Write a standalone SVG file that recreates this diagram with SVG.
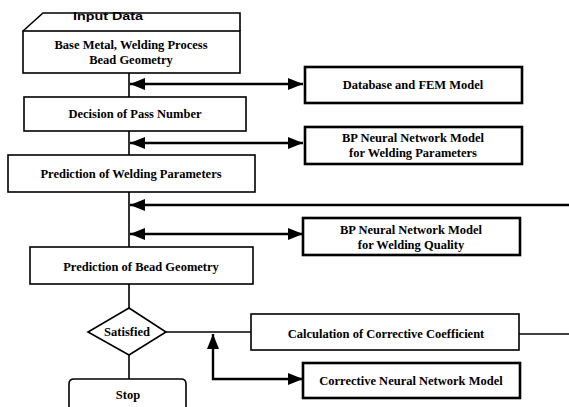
<svg xmlns="http://www.w3.org/2000/svg" width="569" height="407" viewBox="0 0 569 407">
  <defs>
    <marker id="ah" viewBox="0 0 15 12" refX="15" refY="6" markerWidth="15" markerHeight="12" markerUnits="userSpaceOnUse" orient="auto-start-reverse">
      <path d="M0,0 L15,6 L0,12 Z" fill="#000"/>
    </marker>
    <style>
      .box { fill: #fff; stroke: #000; stroke-width: 1.6; }
      .mbox { fill: #fff; stroke: #000; stroke-width: 2.6; }
      .t { font-family: "Liberation Serif", "Times New Roman", serif; font-weight: bold; font-size: 12.5px; text-anchor: middle; fill: #000; }
      .ln { fill: none; stroke: #000; stroke-width: 1.6; }
      .ar { fill: none; stroke: #000; stroke-width: 2.4; }
    </style>
  </defs>

  <!-- connectors -->
  <g id="connectors">
    <path class="ln" d="M129,73 V97 M129,131 V155 M129,192 V247 M129,284 V308 M129,355 V379"/>
    <line class="ar" x1="130" y1="84" x2="303" y2="84" marker-start="url(#ah)" marker-end="url(#ah)"/>
    <line class="ar" x1="130" y1="143" x2="303" y2="143" marker-start="url(#ah)" marker-end="url(#ah)"/>
    <line class="ar" x1="569" y1="205" x2="130" y2="205" marker-end="url(#ah)"/>
    <line class="ar" x1="130" y1="234" x2="303" y2="234" marker-start="url(#ah)" marker-end="url(#ah)"/>
    <path class="ln" d="M166,332 H251"/>
    <path class="ln" d="M519,334 H569"/>
    <path class="ar" d="M303,379 H213 V334" marker-start="url(#ah)" marker-end="url(#ah)"/>
  </g>

  <!-- input data header -->
  <g id="input-data">
    <path class="box" d="M23,31 L43,13 H240 V31"/>
    <text x="108" y="20" textLength="70" lengthAdjust="spacingAndGlyphs" style="font-family:'Liberation Sans',Arial,sans-serif;font-weight:bold;font-size:11px;text-anchor:middle">Input Data</text>
  </g>

  <g id="base-metal">
    <rect class="box" x="23" y="31" width="217" height="42"/>
    <text class="t" x="131" y="49">Base Metal, Welding Process</text>
    <text class="t" x="131" y="64">Bead Geometry</text>
  </g>

  <g id="pass-number">
    <rect class="box" x="24" y="97" width="222" height="34"/>
    <text class="t" x="135" y="118">Decision of Pass Number</text>
  </g>

  <g id="pred-params">
    <rect class="box" x="8" y="155" width="247" height="37"/>
    <text class="t" x="131" y="178">Prediction of Welding Parameters</text>
  </g>

  <g id="pred-bead">
    <rect class="box" x="30" y="247" width="223" height="37"/>
    <text class="t" x="141" y="271">Prediction of Bead Geometry</text>
  </g>

  <g id="satisfied">
    <path class="box" d="M129,308 L166,332 L129,355 L88,332 Z"/>
    <text class="t" x="127" y="336">Satisfied</text>
  </g>

  <g id="stop">
    <path class="box" d="M69,410 V384 Q69,379 74,379 H181 Q186,379 186,384 V410"/>
    <text class="t" x="128" y="399">Stop</text>
  </g>

  <g id="database-fem">
    <rect class="mbox" x="305" y="67" width="217" height="36"/>
    <text class="t" x="413" y="89">Database and FEM Model</text>
  </g>

  <g id="bp-params">
    <rect class="mbox" x="305" y="127" width="217" height="37"/>
    <text class="t" x="413" y="142">BP Neural Network Model</text>
    <text class="t" x="413" y="157">for Welding Parameters</text>
  </g>

  <g id="bp-quality">
    <rect class="mbox" x="303" y="218" width="217" height="37"/>
    <text class="t" x="411" y="234">BP Neural Network Model</text>
    <text class="t" x="411" y="249">for Welding Quality</text>
  </g>

  <g id="corrective-coef">
    <rect class="box" x="251" y="314" width="268" height="36"/>
    <text class="t" x="386" y="338">Calculation of Corrective Coefficient</text>
  </g>

  <g id="corrective-nn">
    <rect class="mbox" x="303" y="363" width="217" height="35"/>
    <text class="t" x="411" y="385">Corrective Neural Network Model</text>
  </g>
</svg>
